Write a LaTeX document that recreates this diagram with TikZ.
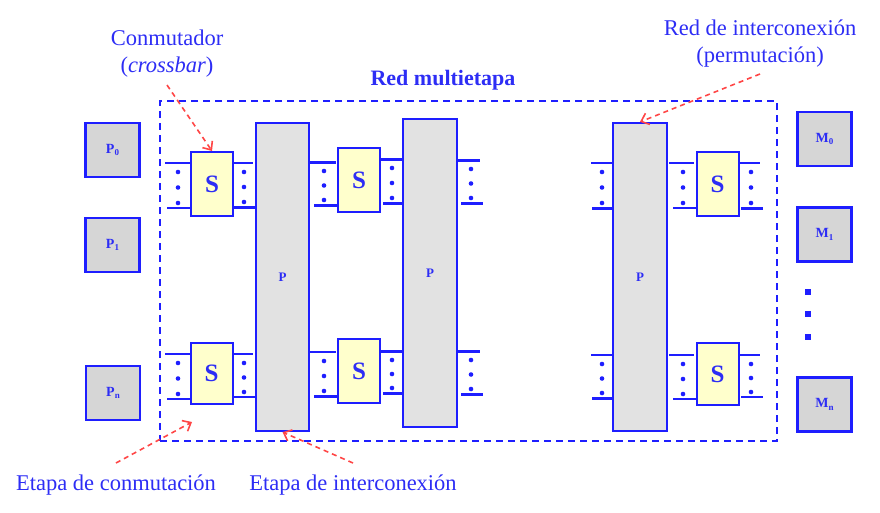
\documentclass[tikz,border=0pt]{standalone}
\usepackage{fontspec}
\setmainfont{Liberation Serif}
\usetikzlibrary{arrows.meta}
\definecolor{bl}{RGB}{30,30,255}
\definecolor{txtbl}{RGB}{45,45,245}
\definecolor{sy}{RGB}{255,255,204}
\definecolor{pg}{RGB}{226,226,226}
\definecolor{bgr}{RGB}{214,214,214}
\definecolor{rd}{RGB}{255,70,70}
\newcommand\stubs[9]{%
  \draw[#4] (#1,#3) -- (#2,#3);
  \draw[#8] (#5,#7) -- (#6,#7);
  \fill[bl] ({#9},{#3+9}) circle (2.3);
  \fill[bl] ({#9},{(#3+#7)/2+2}) circle (2.3);
  \fill[bl] ({#9},{#7-5}) circle (2.3);
}
\begin{document}
\begin{tikzpicture}[x=1pt,y=-1pt,
  lbl/.style={text=txtbl,font=\fontsize{22.5}{25}\selectfont,inner sep=0pt},
  sbox/.style={draw=bl,line width=2pt,fill=sy,minimum width=42pt,text=txtbl,font=\fontsize{25}{25}\selectfont\bfseries,inner sep=0pt},
  pcol/.style={draw=bl,line width=2.2pt,fill=pg,minimum width=53pt,text=txtbl,font=\fontsize{13}{13}\selectfont\bfseries,inner sep=0pt},
  pebox/.style={draw=bl,line width=2.2pt,fill=bgr,minimum width=54pt,minimum height=54pt,text=txtbl,font=\fontsize{14}{14}\selectfont\bfseries,inner sep=0pt},
  frm/.style={draw=bl,line width=2.2pt,dash pattern=on 7pt off 5pt,minimum width=617pt,minimum height=340pt,inner sep=0pt},
  thinl/.style={draw=bl,line width=1.6pt},
  thickl/.style={draw=bl,line width=3pt},
  redarr/.style={draw=rd,line width=1.6pt,dash pattern=on 5pt off 4pt,-{Straight Barb[length=7pt,width=12pt,line width=1.6pt]}}
]
\useasboundingbox (0,0) rectangle (880,512);

% frame
\node[frm] (net) at (468.5,271) {};

% processors and memories
\newcommand\sub[1]{\raisebox{-0.35ex}{\fontsize{9}{9}\selectfont #1}}
\node[pebox] (p0) at (112.5,150) {P\sub{0}};
\node[pebox] (p1) at (112.5,245) {P\sub{1}};
\node[pebox] (pn) at (113,393) {P\sub{n}};
\node[pebox] (m0) at (824.5,139) {M\sub{0}};
\node[pebox] (m1) at (824.5,234.5) {M\sub{1}};
\node[pebox] (mn) at (824.5,404.5) {M\sub{n}};
\foreach \yy in {292,314,337} \fill[bl] (805,\yy-3) rectangle +(6,6);

% switches
\node[sbox,minimum height=64pt] (s1t) at (212,184) {S};
\node[sbox,minimum height=61pt] (s1b) at (211.5,373.5) {S};
\node[sbox,minimum height=64pt] (s2t) at (359,180) {S};
\node[sbox,minimum height=64pt] (s2b) at (359,371) {S};
\node[sbox,minimum height=64pt] (s3t) at (717.5,184) {S};
\node[sbox,minimum height=62pt] (s3b) at (717.5,374) {S};

% permutation columns
\node[pcol,minimum height=308pt] (c1) at (282.5,277) {P};
\node[pcol,minimum width=54pt,minimum height=308pt] (c2) at (430,273) {P};
\node[pcol,minimum width=54pt,minimum height=308pt] (c3) at (640,277) {P};

% stubs, top row
\stubs{165}{190}{163}{thinl}{167}{191}{208}{thinl}{178}
\stubs{233}{253}{163}{thinl}{233}{256}{207}{thickl}{244}
\stubs{310}{336}{162}{thickl}{314}{337}{205}{thickl}{324}
\stubs{381}{402}{159}{thickl}{383}{402}{203}{thickl}{392}
\stubs{457}{480}{160}{thickl}{461}{483}{203}{thickl}{471}
\stubs{591}{613}{163}{thinl}{592}{613}{208}{thickl}{602}
\stubs{669}{694}{163}{thinl}{673}{696}{208}{thinl}{683}
\stubs{739}{760}{163}{thinl}{741}{763}{208}{thickl}{751}
% stubs, bottom row
\stubs{165}{190}{354}{thinl}{167}{191}{399}{thinl}{178}
\stubs{233}{253}{354}{thinl}{233}{256}{397}{thinl}{244}
\stubs{310}{336}{352}{thinl}{314}{337}{396}{thickl}{324}
\stubs{381}{402}{351}{thickl}{383}{402}{393}{thickl}{392}
\stubs{457}{480}{351}{thickl}{461}{483}{394}{thickl}{471}
\stubs{591}{613}{355}{thinl}{592}{613}{398}{thickl}{602}
\stubs{669}{694}{355}{thinl}{673}{696}{399}{thinl}{683}
\stubs{739}{760}{355}{thinl}{741}{763}{397}{thinl}{751}

% labels
\node[lbl] (conm) at (167,38) {Conmutador};
\node[lbl] (cross) at (167,67) {(\textit{crossbar})};
\node[lbl,font=\fontsize{22}{25}\selectfont\bfseries] (rmt) at (443,80) {Red multietapa};
\node[lbl] (rint) at (760,28) {Red de interconexión};
\node[lbl] (perm) at (760,57) {(permutación)};
\node[lbl] (econm) at (116,485) {Etapa de conmutación};
\node[lbl] (eint) at (353,485) {Etapa de interconexión};

% red arrows
\coordinate (a1) at (167,85);
\coordinate (a2) at (760,74);
\coordinate (a3) at (116,463);
\coordinate (a3e) at (192,422);
\coordinate (a4) at (353,463);
\draw[redarr] (a1) -- (s1t.north);
\draw[redarr] (a2) -- (c3.north);
\draw[redarr] (a3) -- (a3e);
\draw[redarr] (a4) -- (c1.south);
\end{tikzpicture}
\end{document}
